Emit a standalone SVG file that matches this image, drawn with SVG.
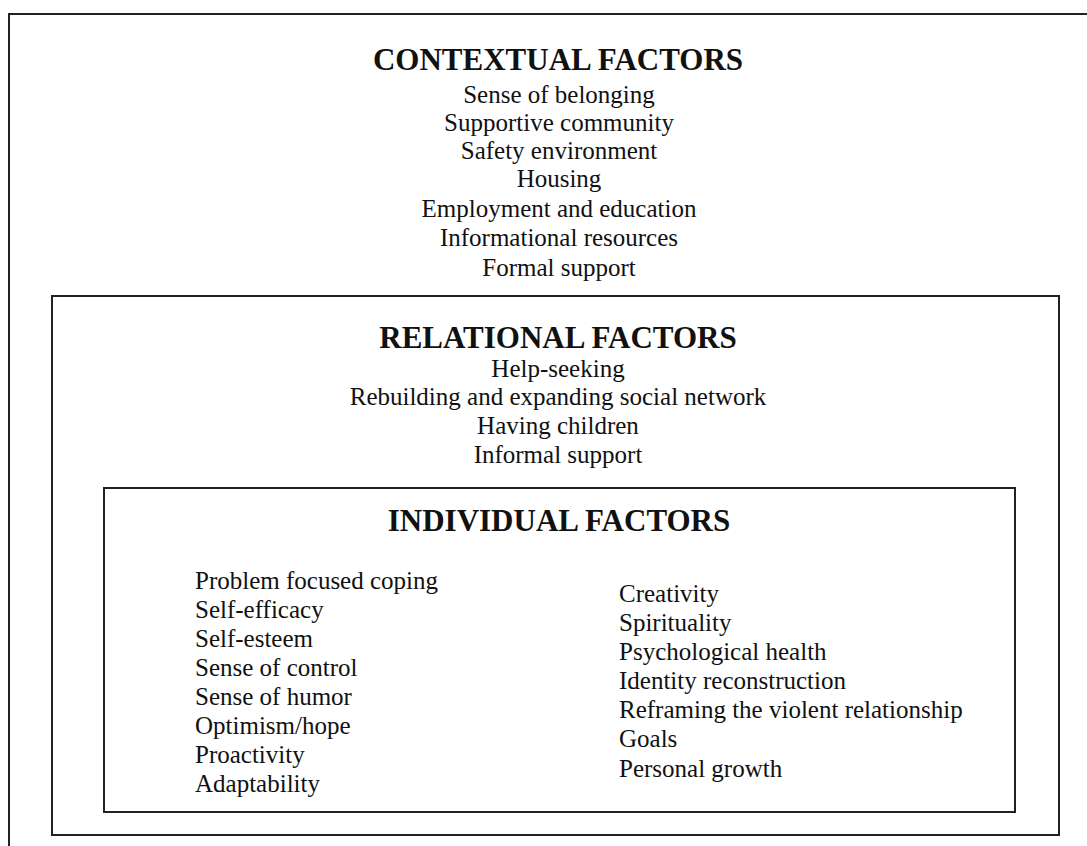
<svg xmlns="http://www.w3.org/2000/svg" width="1087" height="846" viewBox="0 0 1087 846">
<style>
.frame{fill:none;stroke:#222;stroke-width:2}
.title{font-family:"Liberation Serif","Times New Roman",serif;font-size:31px;font-weight:bold;fill:#111;text-anchor:middle}
.item{font-family:"Liberation Serif","Times New Roman",serif;font-size:25px;fill:#111}
.c{text-anchor:middle}
</style>
<rect width="1087" height="846" fill="#fff"/>
<g id="contextual">
<path class="frame" d="M9,846 V14 H1087"/>
<text class="title" x="558" y="70">CONTEXTUAL FACTORS</text>
<text class="item c" x="559" y="103">Sense of belonging</text>
<text class="item c" x="559" y="131">Supportive community</text>
<text class="item c" x="559" y="159">Safety environment</text>
<text class="item c" x="559" y="187">Housing</text>
<text class="item c" x="559" y="217">Employment and education</text>
<text class="item c" x="559" y="246">Informational resources</text>
<text class="item c" x="559" y="276">Formal support</text>
</g>
<g id="relational">
<rect class="frame" x="52" y="296" width="1007" height="539"/>
<text class="title" x="558" y="348">RELATIONAL FACTORS</text>
<text class="item c" x="558" y="377">Help-seeking</text>
<text class="item c" x="558" y="405">Rebuilding and expanding social network</text>
<text class="item c" x="558" y="434">Having children</text>
<text class="item c" x="558" y="463">Informal support</text>
</g>
<g id="individual">
<rect class="frame" x="104" y="488" width="911" height="324"/>
<text class="title" x="559" y="531">INDIVIDUAL FACTORS</text>
<text class="item" x="195" y="589">Problem focused coping</text>
<text class="item" x="195" y="618">Self-efficacy</text>
<text class="item" x="195" y="647">Self-esteem</text>
<text class="item" x="195" y="676">Sense of control</text>
<text class="item" x="195" y="705">Sense of humor</text>
<text class="item" x="195" y="734">Optimism/hope</text>
<text class="item" x="195" y="763">Proactivity</text>
<text class="item" x="195" y="792">Adaptability</text>
<text class="item" x="619" y="602">Creativity</text>
<text class="item" x="619" y="631">Spirituality</text>
<text class="item" x="619" y="660">Psychological health</text>
<text class="item" x="619" y="689">Identity reconstruction</text>
<text class="item" x="619" y="718">Reframing the violent relationship</text>
<text class="item" x="619" y="747">Goals</text>
<text class="item" x="619" y="777">Personal growth</text>
</g>
<g id="connectors"></g>
</svg>
